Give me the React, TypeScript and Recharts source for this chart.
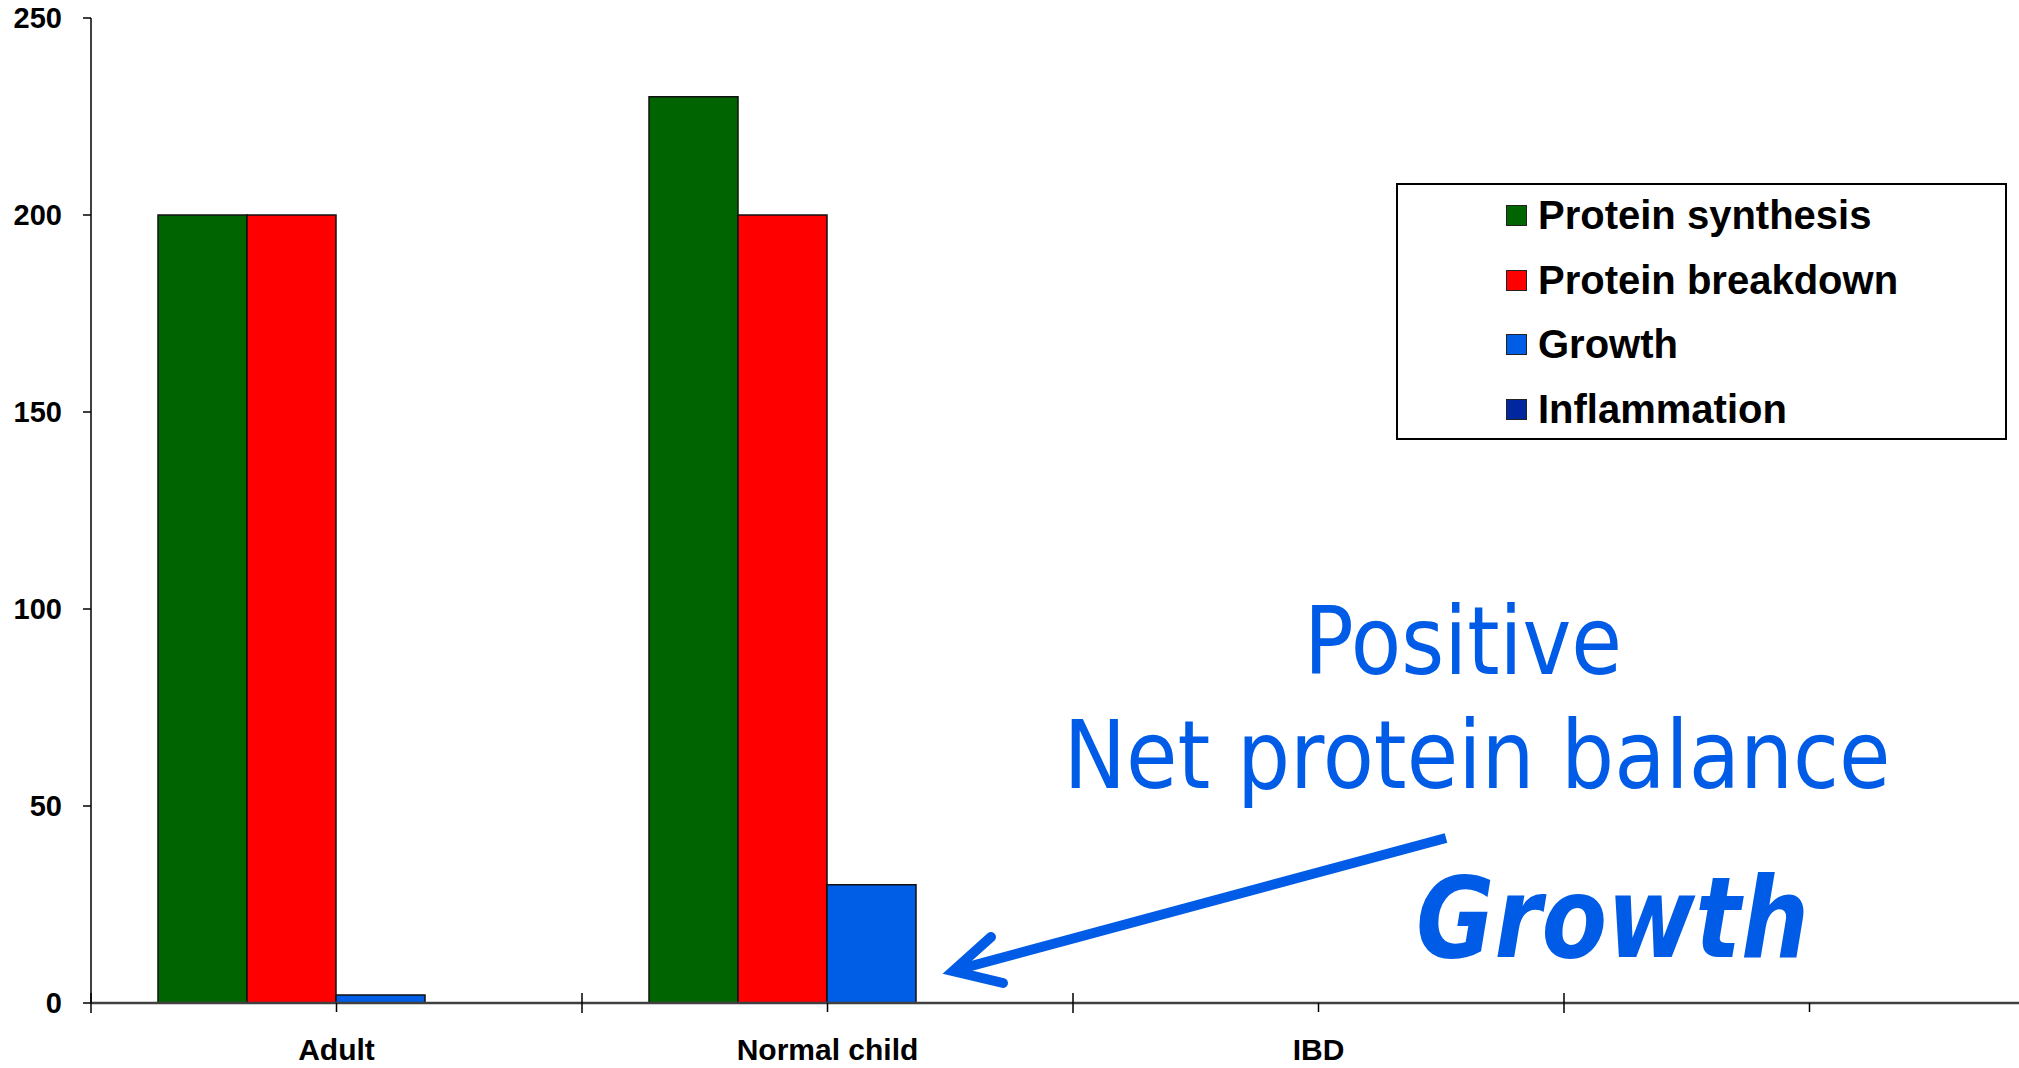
import { BarChart, Bar, XAxis, YAxis, Legend } from "recharts";

const categories = ["Adult", "Normal child", "IBD", ""];
const proteinSynthesis = [200, 230, null, null];
const proteinBreakdown = [200, 200, null, null];
const growth = [2, 30, null, null];
const inflammation = [null, null, null, null];
const yTicks = [0, 50, 100, 150, 200, 250];

const series = [
  { key: "synthesis", name: "Protein synthesis", color: "#006400", values: proteinSynthesis },
  { key: "breakdown", name: "Protein breakdown", color: "#FF0000", values: proteinBreakdown },
  { key: "growth", name: "Growth", color: "#005EE6", values: growth },
  { key: "inflammation", name: "Inflammation", color: "#00279E", values: inflammation },
];

const data = categories.map((category, i) => {
  const row: Record<string, string | number | null> = { category };
  series.forEach((s) => {
    row[s.key] = s.values[i];
  });
  return row;
});

const AXIS_COLOR = "#404040";
const LABEL_FONT = "'Liberation Sans', Arial, sans-serif";
const NOTE_BLUE = "#005CE6";

// category label plus a short tick at the centre and a crossing tick at the left boundary
const CategoryTick = (props: any) => {
  const { x, y, payload } = props;
  const half = payload && typeof payload.offset === "number" && payload.offset > 0 ? payload.offset : 245.5;
  const left = x - half;
  return (
    <g>
      <line x1={left} x2={left} y1={y - 10} y2={y + 10} stroke="#000" strokeWidth={1.5} />
      <line x1={x} x2={x} y1={y} y2={y + 9} stroke="#000" strokeWidth={1.5} />
      <text
        x={x}
        y={y + 57}
        textAnchor="middle"
        fill="#000"
        fontFamily={LABEL_FONT}
        fontWeight="bold"
        fontSize={30}
      >
        {payload.value}
      </text>
    </g>
  );
};

const LegendBox = () => (
  <div style={{ marginTop: -1.5 }}>
    {series.map((s) => (
      <div
        key={s.key}
        style={{
          height: 64.5,
          display: "flex",
          alignItems: "center",
          paddingLeft: 108,
        }}
      >
        <span
          style={{
            width: 21,
            height: 21,
            boxSizing: "border-box",
            background: s.color,
            border: "1px solid #222",
            marginRight: 11,
            flex: "none",
          }}
        />
        <span
          style={{
            fontFamily: LABEL_FONT,
            fontWeight: "bold",
            fontSize: 40,
            color: "#000",
            whiteSpace: "nowrap",
          }}
        >
          {s.name}
        </span>
      </div>
    ))}
  </div>
);

export default function App() {
  return (
    <div
      style={{
        position: "absolute",
        left: 0,
        top: 0,
        width: 2019,
        height: 1068,
        overflow: "hidden",
        background: "#fff",
      }}
    >
      <BarChart
        width={2100}
        height={1068}
        data={data}
        margin={{ top: 18, right: 45, bottom: 0, left: 0 }}
        barCategoryGap={67}
        barGap={0}
      >
        <XAxis
          dataKey="category"
          interval={0}
          height={65}
          tickLine={false}
          tickSize={0}
          tickMargin={0}
          axisLine={{ stroke: AXIS_COLOR, strokeWidth: 2.5 }}
          tick={<CategoryTick />}
        />
        <YAxis
          width={91}
          domain={[0, 250]}
          ticks={yTicks}
          tickSize={8}
          tickMargin={21}
          axisLine={{ stroke: AXIS_COLOR, strokeWidth: 2 }}
          tickLine={{ stroke: "#000", strokeWidth: 1.5 }}
          tick={{ fill: "#000", fontFamily: LABEL_FONT, fontWeight: "bold", fontSize: 29 }}
        />
        <Legend
          layout="vertical"
          align="center"
          verticalAlign="middle"
          content={<LegendBox />}
          wrapperStyle={{
            left: 1396,
            top: 183,
            width: 611,
            height: 257,
            border: "2.5px solid #000",
            boxSizing: "border-box",
            background: "#fff",
          }}
        />
        {series.map((s) => (
          <Bar
            key={s.key}
            dataKey={s.key}
            name={s.name}
            fill={s.color}
            stroke="#111"
            strokeWidth={1.5}
            isAnimationActive={false}
          />
        ))}
      </BarChart>
      <svg
        width={2019}
        height={1068}
        style={{ position: "absolute", left: 0, top: 0, pointerEvents: "none" }}
      >
        <text
          x={1463}
          y={674}
          textAnchor="middle"
          fill={NOTE_BLUE}
          fontFamily="'DejaVu Sans', Tahoma, sans-serif"
          fontSize={95}
          textLength={318}
          lengthAdjust="spacingAndGlyphs"
        >
          Positive
        </text>
        <text
          x={1477}
          y={788}
          textAnchor="middle"
          fill={NOTE_BLUE}
          fontFamily="'DejaVu Sans', Tahoma, sans-serif"
          fontSize={95}
          textLength={827}
          lengthAdjust="spacingAndGlyphs"
        >
          Net protein balance
        </text>
        <text
          x={1416}
          y={957}
          fill={NOTE_BLUE}
          fontFamily="'DejaVu Sans', Tahoma, sans-serif"
          fontWeight="bold"
          fontStyle="italic"
          fontSize={112}
          textLength={393}
          lengthAdjust="spacingAndGlyphs"
        >
          Growth
        </text>
        {/* arrow pointing at the growth bar */}
        <line x1={1446} y1={838} x2={960} y2={969} stroke={NOTE_BLUE} strokeWidth={10} />
        <path
          d="M991,937 L953,971 L1003,983"
          fill="none"
          stroke={NOTE_BLUE}
          strokeWidth={10}
          strokeLinecap="round"
          strokeLinejoin="miter"
        />
      </svg>
    </div>
  );
}
